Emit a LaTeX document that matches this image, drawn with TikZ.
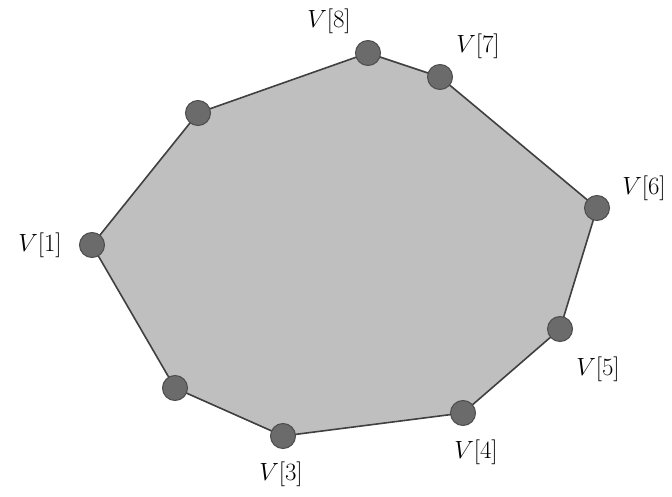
\documentclass[tikz,border=0pt]{standalone}
\begin{document}
\begin{tikzpicture}[x=1pt,y=-1pt,
  vdot/.style={circle,fill=black!58,draw=black!70,line width=1pt,minimum size=25pt,inner sep=0pt},
  vlab/.style={font=\fontsize{27}{32}\selectfont,inner sep=0pt}]
\useasboundingbox (0,0) rectangle (672,497);
\coordinate (p1) at (92,245);
\coordinate (p2) at (175,388);
\coordinate (p3) at (283,436);
\coordinate (p4) at (463,413);
\coordinate (p5) at (560,329);
\coordinate (p6) at (597,208);
\coordinate (p7) at (440,77);
\coordinate (p8) at (368,53);
\coordinate (p9) at (198,113);
\draw[fill=black!25,draw=black!75,line width=1.6pt] (p1)--(p2)--(p3)--(p4)--(p5)--(p6)--(p7)--(p8)--(p9)--cycle;
\foreach \i in {1,...,9} \node[vdot] (d\i) at (p\i) {};
\node[vlab] (l1) at (40,245) {$V[1]$};
\node[vlab] (l3) at (281,474) {$V[3]$};
\node[vlab] (l4) at (476,452) {$V[4]$};
\node[vlab] (l5) at (598,369) {$V[5]$};
\node[vlab] (l6) at (644,188) {$V[6]$};
\node[vlab] (l7) at (478,46) {$V[7]$};
\node[vlab] (l8) at (329,21) {$V[8]$};
\end{tikzpicture}
\end{document}
